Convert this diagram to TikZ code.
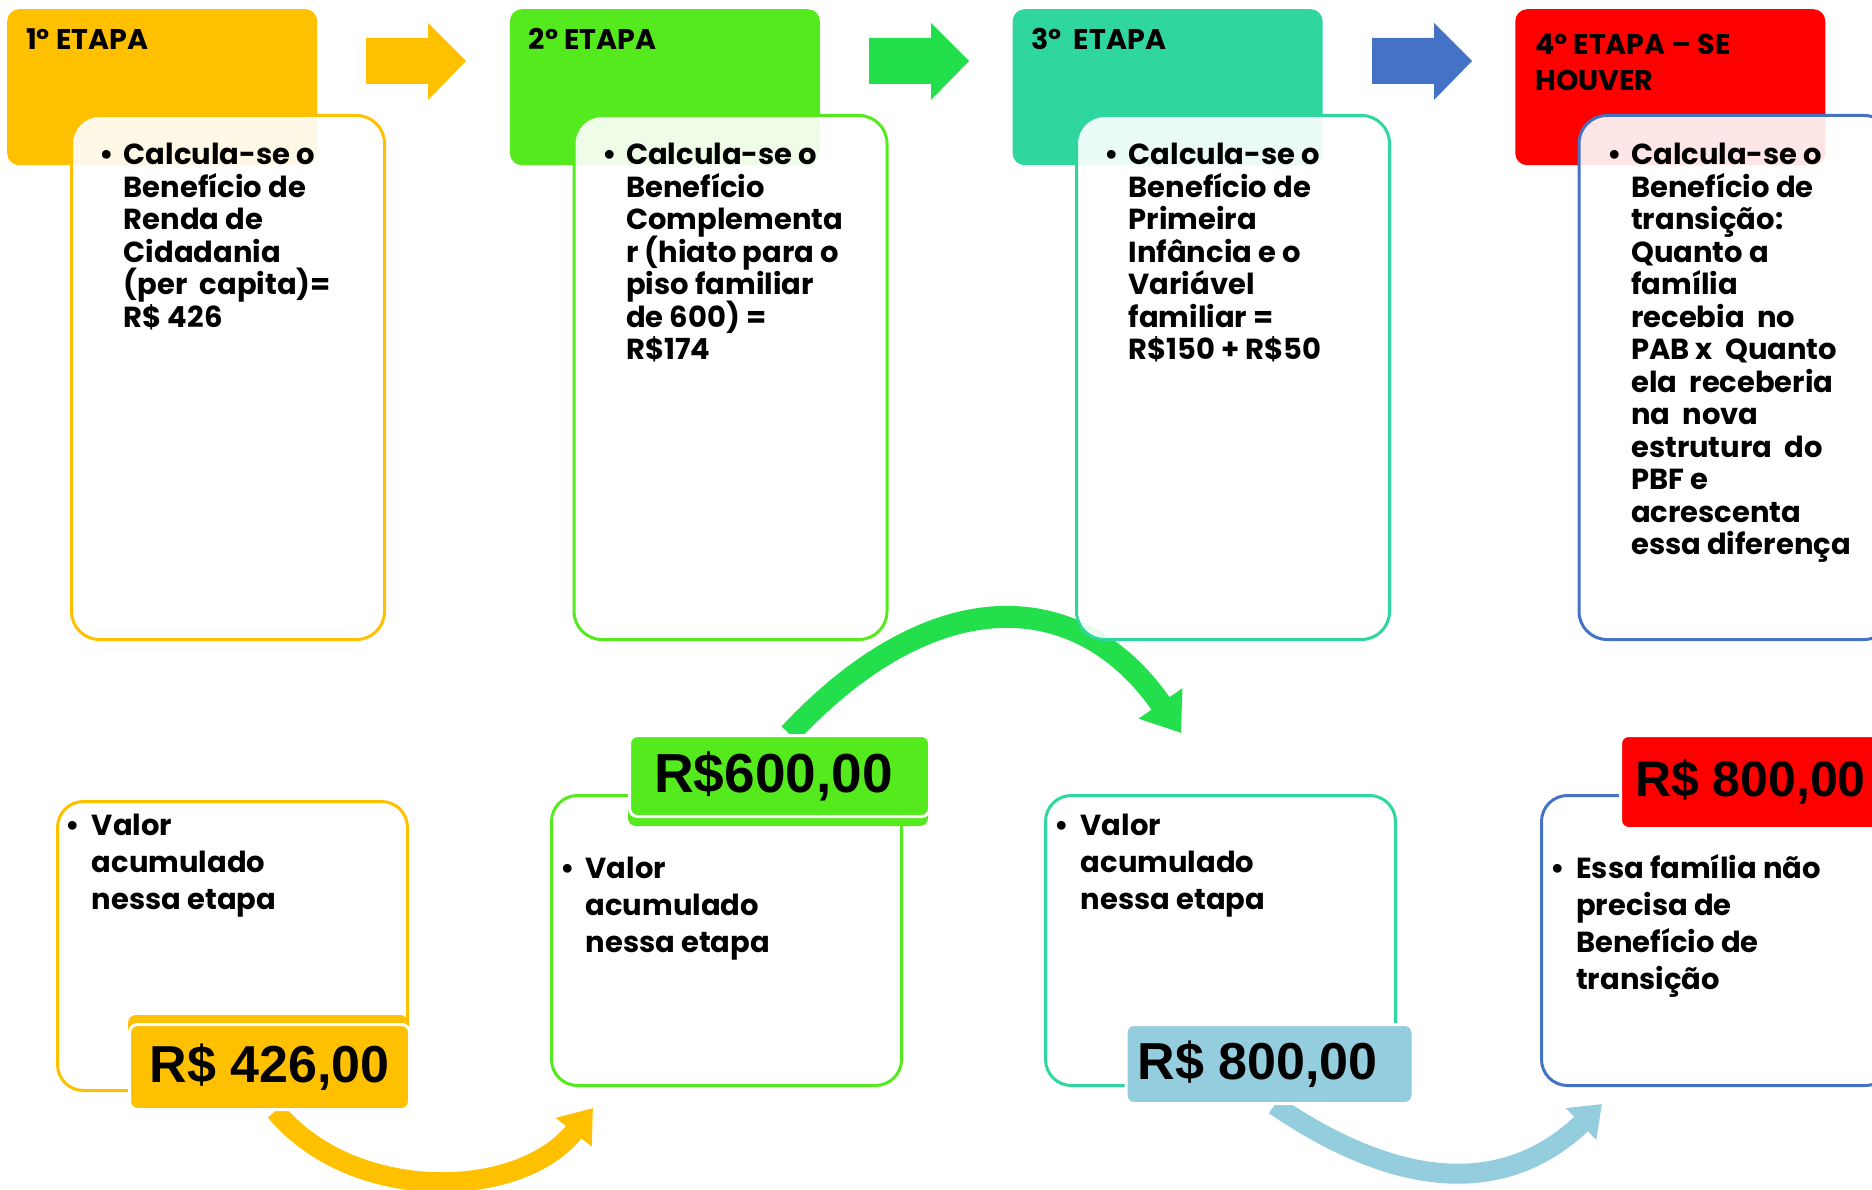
\documentclass[tikz,border=0pt]{standalone}
\usepackage{fontspec}
\setmainfont{Poppins}
\newfontfamily\valorfont{Liberation Sans}
\usetikzlibrary{calc,arrows.meta,backgrounds}

\definecolor{amarelo}{HTML}{FFC000}
\definecolor{verde}{HTML}{55EA1E}
\definecolor{verdeseta}{HTML}{22DF4B}
\definecolor{turquesa}{HTML}{2FD6A0}
\definecolor{azul}{HTML}{4472C4}
\definecolor{vermelho}{HTML}{FF0000}
\definecolor{azulclaro}{HTML}{94CDDD}

\newcommand\linhasjuntas{\lineskiplimit=-30pt\relax}

\begin{document}
\begin{tikzpicture}[x=1pt, y=-1pt,
  etapa/.style={anchor=north west, rounded corners=12pt, inner sep=0pt,
    minimum width=310pt, minimum height=156pt},
  titulo/.style={anchor=base west, align=left, inner sep=0pt,
    font=\bfseries\fontsize{28.5}{36.5}\selectfont},
  caixa/.style={anchor=north west, rounded corners=28pt, line width=3pt,
    fill=white, fill opacity=0.9, inner sep=0pt,
    minimum width=313pt, minimum height=524pt},
  texto/.style={anchor=base west, align=left, inner sep=0pt,
    font=\bfseries\fontsize{29}{32.5}\selectfont\linhasjuntas},
  marca/.style={anchor=base, inner sep=0pt,
    font=\bfseries\fontsize{29}{32.5}\selectfont},
  acum/.style={anchor=north west, rounded corners=26pt, line width=3pt,
    fill=white, inner sep=0pt, minimum width=350pt, minimum height=290pt},
  textoacum/.style={anchor=base west, align=left, inner sep=0pt,
    font=\bfseries\fontsize{29}{37}\selectfont\linhasjuntas},
  marcaacum/.style={anchor=base, inner sep=0pt,
    font=\bfseries\fontsize{29}{37}\selectfont},
  valor/.style={anchor=north west, rounded corners=8pt, draw=white,
    line width=3pt, inner sep=0pt,
    font=\valorfont\bfseries\fontsize{52}{60}\selectfont},
  sombra/.style={rounded corners=8pt},
  seta/.style={line width=20pt}
]
\useasboundingbox (0,0) rectangle (1872,1190);
\clip (0,0) rectangle (1872,1190);

% etapas (texto ancorado pela ultima linha)
\node[etapa, fill=amarelo] (h1) at (7,9) {};
\node[etapa, fill=verde] (h2) at (509.7,9) {};
\node[etapa, fill=turquesa] (h3) at (1012.4,9) {};
\node[etapa, fill=vermelho] (h4) at (1515.1,9) {};
\node[titulo] (t1) at (26,50) {1º ETAPA};
\node[titulo] (t2) at (528.7,50) {2º ETAPA};
\node[titulo] (t3) at (1031.4,50) {3º~~ETAPA};
\node[titulo] (t4) at (1535,91) {4º ETAPA – SE\\HOUVER};

\foreach \i/\cor in {0/amarelo,1/verdeseta,2/azul}
  \fill[\cor, shift={(503*\i,0)}] (366,38) -- (428,38) -- (428,23) -- (466,61)
    -- (428,100) -- (428,84) -- (366,84) -- cycle;

% caixas de cima
\node[caixa, draw=amarelo] (c1) at (70,114) {};
\node[caixa, draw=verde] (c2) at (572.5,114) {};
\node[caixa, draw=turquesa] (c3) at (1075,114) {};
\node[caixa, draw=azul] (c4) at (1577.5,114) {};

\node[marca] (m1) at (107,164.5) {•};
\node[texto] (x1) at (123.5,327) {Calcula-se o\\Benefício de\\Renda de\\Cidadania\\(per~~capita)=\\R\$ 426};
\node[marca] (m2) at (609.5,164.5) {•};
\node[texto] (x2) at (626,359.5) {Calcula-se o\\Benefício\\Complementa\\r (hiato para o\\piso familiar\\de 600) =\\R\$174};
\node[marca] (m3) at (1112,164.5) {•};
\node[texto] (x3) at (1128.5,359.5) {Calcula-se o\\Benefício de\\Primeira\\Infância e o\\Variável\\familiar =\\R\$150 + R\$50};
\node[marca] (m4) at (1614.5,164.5) {•};
\node[texto] (x4) at (1631,554.5) {Calcula-se o\\Benefício de\\transição:\\Quanto a\\família\\recebia~~no\\PAB x~~Quanto\\ela~~receberia\\na~~nova\\estrutura~~do\\PBF e\\acrescenta\\essa diferença};

% caixas de baixo
\node[acum, draw=amarelo, minimum height=289pt] (b1) at (56,800) {};
\node[acum, draw=verde] (b2) at (550,794) {};
\node[acum, draw=turquesa] (b3) at (1044,794) {};
\node[acum, draw=azul] (b4) at (1540,794) {};

\node[marcaacum] (n1) at (72.7,835) {•};
\node[textoacum] (y1) at (91.7,909) {Valor\\acumulado\\nessa etapa};
\node[marcaacum] (n2) at (568,878) {•};
\node[textoacum] (y2) at (585.5,952) {Valor\\acumulado\\nessa etapa};
\node[marcaacum] (n3) at (1061.5,835) {•};
\node[textoacum] (y3) at (1080.6,909) {Valor\\acumulado\\nessa etapa};
\node[marcaacum] (n4) at (1558,878) {•};
\node[textoacum] (y4) at (1576,989) {Essa família não\\precisa de\\Benefício de\\transição};

% valores
\fill[amarelo, sombra] (128,1015) rectangle (408,1100);
\fill[verde, sombra] (628,742) rectangle (928,826);
\node[valor, fill=amarelo, minimum width=280pt, minimum height=85pt] (v1) at (128,1023) {R\$ 426,00};
\node[valor, fill=verde, minimum width=300pt, minimum height=81pt,
  font=\valorfont\bfseries\fontsize{55}{60}\selectfont] (v2) at (628,734) {R\$600,00\kern12pt};
\node[valor, fill=azulclaro, minimum width=287pt, minimum height=79pt] (v3) at (1124.5,1023) {R\$ 800,00\kern24pt};
\node[valor, fill=vermelho, minimum width=260pt, minimum height=93pt,
  font=\valorfont\bfseries\fontsize{50}{60}\selectfont] (v4) at (1619,734) {R\$ 800,00};

\coordinate (e1) at (593,1108);
\coordinate (e2) at (1181,733);
\coordinate (e3) at (1602,1104);

\begin{scope}[on background layer]
\draw[seta, amarelo, -{Triangle[width=44pt,length=31pt]}]
  ($(v1.south)+(6,0)$) .. controls +(77,93) and +(-74,93) .. (e1);
\draw[seta, verdeseta, line width=22pt, -{Triangle[width=51pt,length=36pt]}]
  ($(v2.north)+(10,0)$) .. controls +(141,-151) and +(-104,-150) .. (e2);
\draw[seta, azulclaro, -{Triangle[width=42pt,length=29pt]}]
  ($(v3.south)+(5,0)$) .. controls +(132,90) and +(-92,88) .. (e3);
\end{scope}
\end{tikzpicture}
\end{document}
